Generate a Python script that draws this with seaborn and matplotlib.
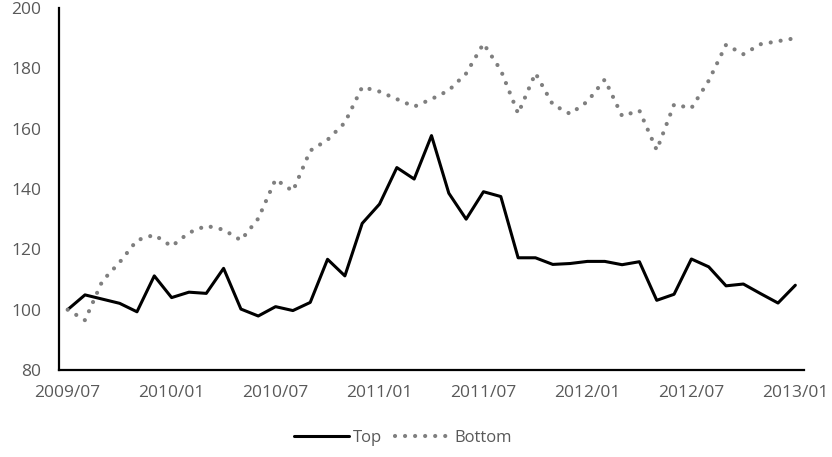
import numpy as np
import pandas as pd
import matplotlib
matplotlib.use("Agg")
import matplotlib.pyplot as plt
import seaborn as sns

# monthly series, 2009/07 .. 2013/01
months = pd.period_range("2009-07", "2013-01", freq="M").strftime("%Y/%m").tolist()
top = [100, 104.9, 103.5, 102.1, 99.3, 111.2, 104, 105.8, 105.4, 113.7,
       100.2, 97.9, 101, 99.7, 102.4, 116.7, 111.2, 128.6, 135, 147.1,
       143.3, 157.7, 138.6, 130, 139.1, 137.5, 117.2, 117.2, 115, 115.3,
       116, 116, 114.9, 115.9, 103.1, 105.1, 116.8, 114.2, 107.9, 108.5,
       105.3, 102.2, 108.1]
bottom = [100, 96.5, 109.5, 115.7, 123, 124.8, 121, 125.5, 127.8, 126.5,
          123, 130.2, 143.2, 139.3, 152.7, 156.3, 162, 173.8, 172.3, 169.8,
          167.3, 169.8, 172.7, 178.3, 188.2, 179.4, 165, 178.4, 168, 164.9,
          169, 176.3, 164.2, 166, 152.9, 168, 166.8, 175.9, 187.8, 184.7,
          188, 189, 190]
tick_labels = ["2009/07", "2010/01", "2010/07", "2011/01",
               "2011/07", "2012/01", "2012/07", "2013/01"]

df = pd.DataFrame({"month": months, "Top": top, "Bottom": bottom})
df["pos"] = np.arange(len(df)) + 0.5   # points sit in the middle of each month

sns.set_style("white")
plt.rcParams["font.family"] = ["Open Sans", "DejaVu Sans"]
grey = "#595959"

fig = plt.figure(figsize=(8.32, 4.57), dpi=100)
ax = fig.add_axes([59 / 832, 1 - 370 / 457, (804 - 59) / 832, (370 - 8) / 457])

sns.lineplot(data=df, x="pos", y="Top", ax=ax, color="black", linewidth=2.2, label="Top")
sns.lineplot(data=df, x="pos", y="Bottom", ax=ax, color="#7f7f7f", linewidth=3.0,
             linestyle=(0, (0.01, 2.4)), dash_capstyle="round", label="Bottom")

ax.set_xlim(0, len(df))
ax.set_ylim(80, 200)
ax.set_yticks(range(80, 201, 20))
ax.set_xlabel("")
ax.set_ylabel("")

# major ticks on month boundaries, labels centred on the month
lab_idx = [months.index(t) for t in tick_labels]
ax.set_xticks(lab_idx)
ax.set_xticklabels([])
ax.set_xticks([i + 0.5 for i in lab_idx], minor=True)
ax.set_xticklabels(tick_labels, minor=True)
ax.tick_params(axis="x", which="major", direction="in", length=5, width=1.5, color="black")
ax.tick_params(axis="x", which="minor", length=0, pad=11, labelsize=12.5, labelcolor=grey)
ax.tick_params(axis="y", length=0, pad=13, labelsize=12.5, labelcolor=grey)

sns.despine(ax=ax)
for s in ["left", "bottom"]:
    ax.spines[s].set_color("black")
    ax.spines[s].set_linewidth(1.6)

ax.get_legend().remove()
h, l = ax.get_legend_handles_labels()
fig.legend(h, l, loc="center", bbox_to_anchor=(403 / 832, 1 - 438 / 457), ncol=2,
           frameon=False, fontsize=12, labelcolor=grey, handlelength=3.3,
           handletextpad=0.25, columnspacing=0.8)

fig.savefig("out.png", dpi=100)
